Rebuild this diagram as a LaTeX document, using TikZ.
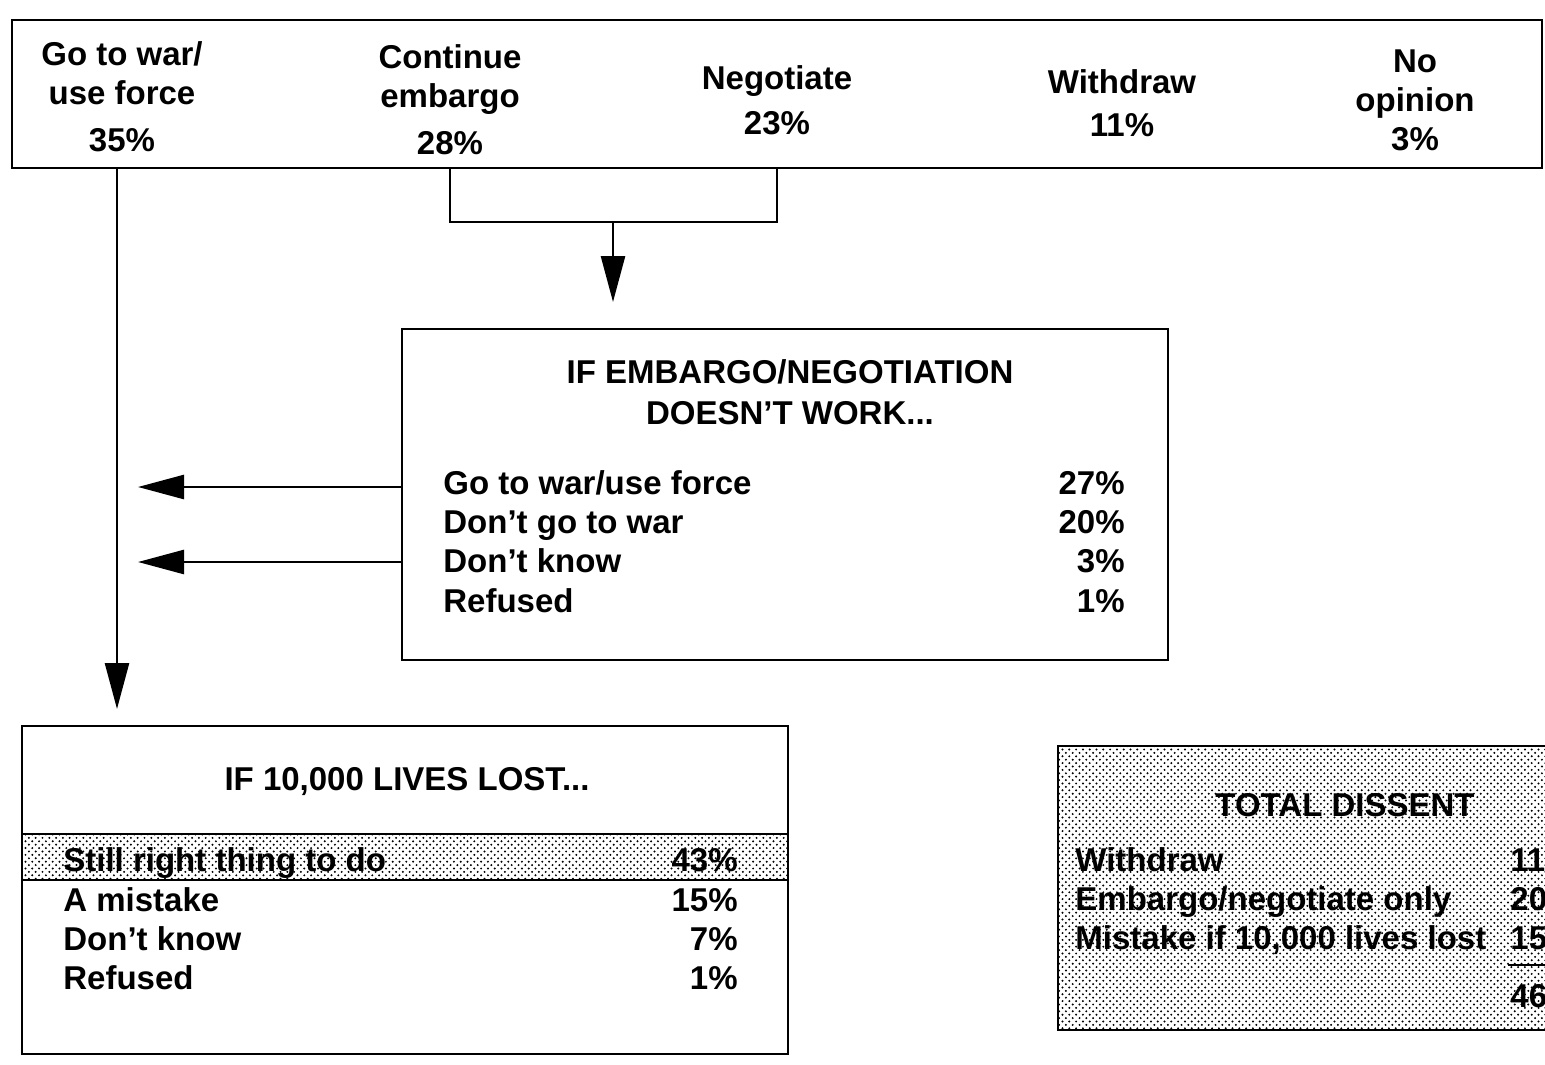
\documentclass[tikz,border=0pt]{standalone}
\usepackage{fontspec}
\setmainfont{Liberation Sans}
\usepackage{tikz}
\usetikzlibrary{arrows.meta}
\usetikzlibrary{patterns, positioning}

\pgfdeclarepatternformonly{halftone}{\pgfqpoint{-1pt}{-1pt}}{\pgfqpoint{4pt}{4pt}}{\pgfqpoint{3.4pt}{3.4pt}}{
  \pgfpathcircle{\pgfqpoint{0.85pt}{0.85pt}}{0.55pt}
  \pgfpathcircle{\pgfqpoint{2.55pt}{2.55pt}}{0.55pt}
  \pgfusepath{fill}
}

\tikzset{
  box/.style={draw, line width=1.3pt, inner sep=0pt, outer sep=0pt},
  shade/.style={box, pattern=halftone},
  lbl/.style={font=\fontsize{16.5}{19.5}\selectfont\bfseries, inner sep=0pt},
  wire/.style={line width=1.3pt},
  arr/.style={wire, -{Triangle[length=23pt, width=12pt]}},
}

\begin{document}
\begin{tikzpicture}[x=0.5pt, y=-0.5pt]
    \useasboundingbox (0,0) rectangle (1545,1064);
    \clip (0,0) rectangle (1545,1064);

    % answers
    \node[box, minimum width=765pt, minimum height=74pt] (top) at (777,94) {};
    \node[lbl, align=center] (gowar) at (122,97) {Go to war/\\use force\\[4pt]35\%};
    \node[lbl, align=center] (cont) at (450,100) {Continue\\embargo\\[4pt]28\%};
    \node[lbl, align=center] (nego) at (777,100) {Negotiate\\[3pt]23\%};
    \node[lbl, align=center] (withd) at (1122,103) {Withdraw\\[2pt]11\%};
    \node[lbl, align=center] (noop) at (1415,100) {No\\opinion\\3\%};

    % if embargo fails
    \node[box, minimum width=383pt, minimum height=165.5pt] (mid) at (785,494.5) {};
    \node[lbl, align=center] (midtitle) at (790,392) {IF EMBARGO/NEGOTIATION\\[1pt]DOESN’T WORK...};
    \foreach \y/\t/\p in {494/{Go to war/use force}/27\%, 533/{Don’t go to war}/20\%,
                          572/{Don’t know}/3\%, 612/{Refused}/1\%}
    {
        \node[lbl, anchor=base west] (mt\y) at (443,\y) {\t};
        \node[lbl, anchor=base east] (mp\y) at (1125,\y) {\p};
    }

    % if lives lost
    \node[box, minimum width=383pt, minimum height=164pt] (lost) at (405,890) {};
    \node[shade, minimum width=383pt, minimum height=23pt] (still) at (405,857) {};
    \node[lbl, anchor=base] (losttitle) at (407,790) {IF 10,000 LIVES LOST...};
    \foreach \y/\t/\p in {871/{Still right thing to do}/43\%, 911/{A mistake}/15\%,
                          950/{Don’t know}/7\%, 989/{Refused}/1\%}
    {
        \node[lbl, anchor=base west] (lt\y) at (63,\y) {\t};
        \node[lbl, anchor=base east] (lp\y) at (738,\y) {\p};
    }

    % total dissent
    \node[shade, minimum width=271pt, minimum height=142pt] (diss) at (1329,888) {};
    \node[lbl, anchor=base] (disstitle) at (1345,816) {TOTAL DISSENT};
    \foreach \y/\t/\p in {871/{Withdraw}/11, 910/{Embargo/negotiate only}/20,
                          949/{Mistake if 10,000 lives lost}/15}
    {
        \node[lbl, anchor=base west] (dt\y) at (1075,\y) {\t};
        \node[lbl, anchor=base west] (dp\y) at (1510,\y) {\p};
    }
    \node[lbl, anchor=base west] (dsum) at (1510,1007) {46};
    \draw[wire] (1508,965) -- (1560,965);

    % connectors
    \coordinate (brk) at (613,222);
    \draw[wire] (top.south -| cont) |- (brk) -| (top.south -| nego);
    \draw[arr, shorten >=13.5pt] (brk) -- (mid.north -| brk);
    \draw[arr, shorten >=8.5pt] (top.south -| 117,0) -- (lost.north -| 117,0);
    \coordinate (hit1) at (138,487);
    \coordinate (hit2) at (138,562);
    \draw[arr] (mid.west |- hit1) -- (hit1);
    \draw[arr] (mid.west |- hit2) -- (hit2);
\end{tikzpicture}
\end{document}
